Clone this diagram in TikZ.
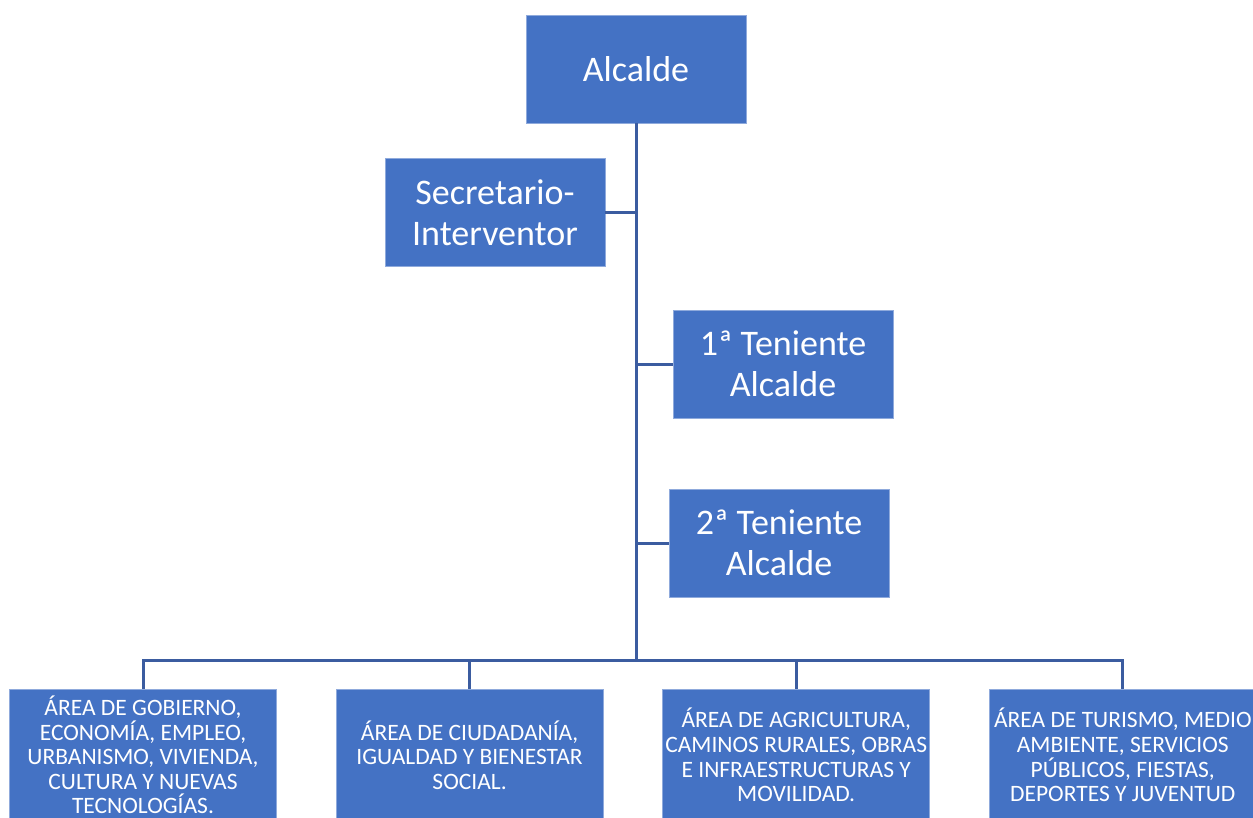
\documentclass[tikz,border=0pt]{standalone}
\usepackage{fontspec}
\setmainfont{Carlito}
\usetikzlibrary{positioning}
\definecolor{boxblue}{HTML}{4472C4}
\definecolor{boxedge}{HTML}{8FAADC}
\definecolor{linkblue}{HTML}{3B5CA0}

\begin{document}
\begin{tikzpicture}[
    x=1pt, y=-1pt,
    node distance=59pt,
    box/.style={rectangle, fill=boxblue, draw=boxedge, line width=0.6pt, text=white, inner sep=0pt, align=center, minimum width=220pt, minimum height=108pt, font=\fontsize{36}{41}\selectfont},
    areabox/.style={box, minimum width=267pt, minimum height=132pt, font=\fontsize{23.5}{24.6}\selectfont},
    link/.style={draw=linkblue, line width=3pt}
]
\useasboundingbox (0,0) rectangle (1253,817);
\clip (0,0) rectangle (1253,817);
\fill[white] (0,0) rectangle (1253,817);

% mayor and direct staff
\node[box] (alc) at (636,69) {Alcalde};
\node[box] (sec) at (495,212.5) {Secretario-\\Interventor};
\node[box] (ten1) at (783,364) {1ª Teniente\\Alcalde};
\node[box] (ten2) at (779,543) {2ª Teniente\\Alcalde};

% areas
\node[areabox] (area1) at (143,755) {ÁREA DE GOBIERNO,\\ECONOMÍA, EMPLEO,\\URBANISMO, VIVIENDA,\\CULTURA Y NUEVAS\\TECNOLOGÍAS.};
\node[areabox, right=of area1] (area2) {ÁREA DE CIUDADANÍA,\\IGUALDAD Y BIENESTAR\\SOCIAL.};
\node[areabox, right=of area2] (area3) {ÁREA DE AGRICULTURA,\\CAMINOS RURALES, OBRAS\\E INFRAESTRUCTURAS Y\\MOVILIDAD.};
\node[areabox, right=of area3] (area4) {ÁREA DE TURISMO, MEDIO\\AMBIENTE, SERVICIOS\\PÚBLICOS, FIESTAS,\\DEPORTES Y JUVENTUD};

\coordinate (bus) at (636,660);
\draw[link] (alc.south) -- (bus);
\draw[link] (sec.east) -- (sec.east -| alc);
\draw[link] (ten1.west) -- (ten1.west -| alc);
\draw[link] (ten2.west) -- (ten2.west -| alc);
\draw[link] (area1.north) |- (bus);
\draw[link] (area2.north) |- (bus);
\draw[link] (area3.north) |- (bus);
\draw[link] (area4.north) |- (bus);
\end{tikzpicture}
\end{document}
